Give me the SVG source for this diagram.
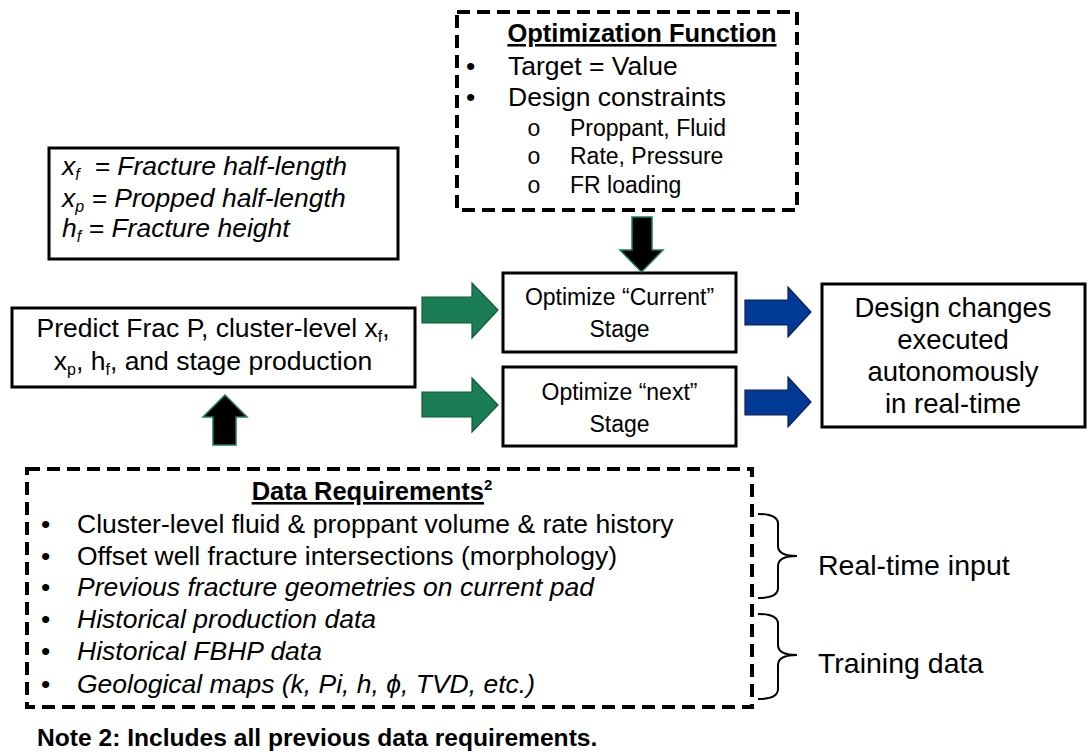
<svg xmlns="http://www.w3.org/2000/svg" width="1089" height="754" viewBox="0 0 1089 754">
<style>
text{font-family:"Liberation Sans",Arial,sans-serif;fill:#000}
.box{fill:#fff;stroke:#000;stroke-width:3}
.dash{fill:#fff;stroke:#000;stroke-width:4;stroke-dasharray:13 7}
.t23{font-size:23px}
.t26{font-size:26.5px}
.t27{font-size:27.5px}
.sub{font-size:23px}
.it{font-style:italic}
.b{font-weight:bold}
.c{text-anchor:middle}
.green{fill:#1b7d56;stroke:#0f5a3a;stroke-width:1.2}
.blue{fill:#003a96;stroke:#0a1f55;stroke-width:1.2}
.blk{fill:#000;stroke:#1b7d56;stroke-width:1.5}
.brace{fill:none;stroke:#000;stroke-width:2}
.circ{font-family:"Liberation Mono",monospace;font-size:23px}
</style>

<g id="opt-function">
<rect class="dash" x="457" y="12" width="340" height="198"/>
<text class="b c" style="font-size:25.5px" x="642" y="42" text-decoration="underline">Optimization Function</text>
<text class="t26" x="466" y="75">•</text><text class="t26" x="508" y="75">Target = Value</text>
<text class="t26" x="466" y="106">•</text><text class="t26" x="508" y="106">Design constraints</text>
<text class="circ" x="527" y="136">o</text><text class="sub" x="570" y="136">Proppant, Fluid</text>
<text class="circ" x="527" y="164">o</text><text class="sub" x="570" y="164">Rate, Pressure</text>
<text class="circ" x="527" y="193">o</text><text class="sub" x="570" y="193">FR loading</text>
</g>

<g id="legend">
<rect class="box" x="49" y="148" width="349" height="111"/>
<text class="t26 it" x="62" y="175" xml:space="preserve">x<tspan font-size="16" dy="5">f</tspan><tspan dy="-5">  = Fracture half-length</tspan></text>
<text class="t26 it" x="62" y="207">x<tspan font-size="16" dy="5">p</tspan><tspan dy="-5"> = Propped half-length</tspan></text>
<text class="t26 it" x="62" y="237">h<tspan font-size="16" dy="5">f</tspan><tspan dy="-5"> = Fracture height</tspan></text>
</g>

<g id="predict">
<rect class="box" x="12" y="308" width="403" height="79"/>
<text class="t26 c" x="213" y="337">Predict Frac P, cluster-level x<tspan font-size="16" dy="5">f</tspan><tspan dy="-5">,</tspan></text>
<text class="t26 c" x="213" y="370">x<tspan font-size="16" dy="5">p</tspan><tspan dy="-5">, h</tspan><tspan font-size="16" dy="5">f</tspan><tspan dy="-5">, and stage production</tspan></text>
</g>

<g id="opt-current">
<rect class="box" x="503" y="273" width="233" height="79"/>
<text class="t23 c" x="619.5" y="305">Optimize “Current”</text>
<text class="t23 c" x="619.5" y="337">Stage</text>
</g>

<g id="opt-next">
<rect class="box" x="503" y="367" width="233" height="79"/>
<text class="t23 c" x="619.5" y="400">Optimize “next”</text>
<text class="t23 c" x="619.5" y="432">Stage</text>
</g>

<g id="design-changes">
<rect class="box" x="822" y="284" width="263" height="143"/>
<text class="t27 c" x="953" y="317">Design changes</text>
<text class="t27 c" x="953" y="349">executed</text>
<text class="t27 c" x="953" y="381">autonomously</text>
<text class="t27 c" x="953" y="413">in real-time</text>
</g>

<g id="data-requirements">
<rect class="dash" x="27" y="469" width="725" height="238"/>
<text class="b c" style="font-size:25.5px" x="372" y="500"><tspan text-decoration="underline">Data Requirements</tspan><tspan font-size="15" dy="-10">2</tspan></text>
<text class="t26" x="41" y="533">•</text><text class="t26" x="77" y="533">Cluster-level fluid &amp; proppant volume &amp; rate history</text>
<text class="t26" x="41" y="565">•</text><text class="t26" x="77" y="565">Offset well fracture intersections (morphology)</text>
<text class="t26" x="41" y="596">•</text><text class="t26 it" x="77" y="596">Previous fracture geometries on current pad</text>
<text class="t26" x="41" y="628">•</text><text class="t26 it" x="77" y="628">Historical production data</text>
<text class="t26" x="41" y="660">•</text><text class="t26 it" x="77" y="660">Historical FBHP data</text>
<text class="t26" x="41" y="693">•</text><text class="t26 it" x="77" y="693">Geological maps (k, Pi, h, ϕ, TVD, etc.)</text>
</g>

<g id="labels">
<text style="font-size:28.5px" x="818" y="575">Real-time input</text>
<text style="font-size:28.5px" x="818" y="673">Training data</text>
<text class="b" style="font-size:24.6px" x="37" y="746">Note 2: Includes all previous data requirements.</text>
</g>

<g id="connectors">
<polygon class="blk" points="632,217 652,217 652,250 663,250 641.5,272 620,250 632,250"/>
<polygon class="blk" points="213,445 236,445 236,417 247,417 225,395 203,417 213,417"/>
<polygon class="green" points="422,297 472,297 472,283 498,310 472,338 472,323 422,323"/>
<polygon class="green" points="422,392 472,392 472,378 498,405 472,432 472,417 422,417"/>
<polygon class="blue" points="745,300 788,300 788,287 811,312 788,337 788,325 745,325"/>
<polygon class="blue" points="745,390 788,390 788,377 811,402 788,427 788,415 745,415"/>
<path class="brace" d="M758,514 Q778,514 778,524 L778,546 Q778,556 797,556 Q778,556 778,566 L778,588 Q778,598 758,598"/>
<path class="brace" d="M758,614 Q778,614 778,624 L778,645 Q778,655 797,655 Q778,655 778,665 L778,689 Q778,699 758,699"/>
</g>
</svg>
